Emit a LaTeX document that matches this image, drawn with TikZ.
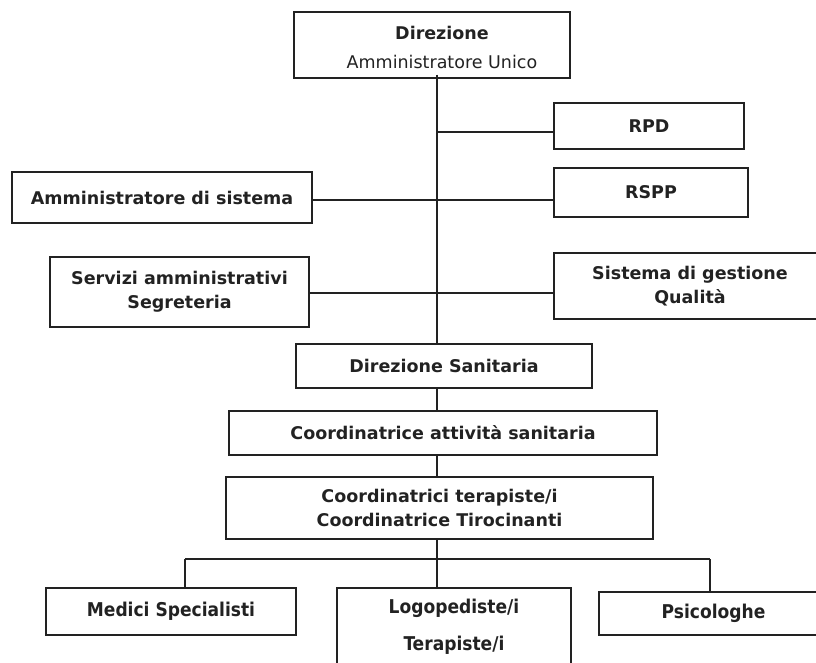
\documentclass[tikz,border=0pt]{standalone}
\usepackage{fontspec}
\setmainfont{DejaVu Sans}
\newfontfamily\condfont{DejaVuSansCondensed}[Extension=.ttf,BoldFont=DejaVuSansCondensed-Bold]
\definecolor{ink}{HTML}{222222}
\tikzset{
  orgbox/.style={draw=ink,line width=1.1pt,inner sep=0pt,align=center,
    font=\bfseries\fontsize{17.5}{24}\selectfont,text=ink},
  lowbox/.style={orgbox,font=\condfont\bfseries\fontsize{19}{37}\selectfont},
  link/.style={draw=ink,line width=1.1pt}
}
\begin{document}
\begin{tikzpicture}[x=1pt,y=-1pt]
\useasboundingbox (0,0) rectangle (816,663);
% boxes
\node[orgbox,minimum width=276pt,minimum height=66pt] (dir) at (432,45) {};
\node[align=center,inner sep=0pt,text=ink,font=\fontsize{17.5}{29}\selectfont] (dirtxt) at (442,47) {\textbf{Direzione}\\Amministratore Unico};
\node[orgbox,minimum width=190pt,minimum height=46pt] (rpd) at (649,126) {RPD};
\node[orgbox,minimum width=194pt,minimum height=49pt] (rspp) at (651,192.5) {RSPP};
\node[orgbox,minimum width=300pt,minimum height=51pt] (amm) at (162,197.5) {Amministratore di sistema};
\node[orgbox,minimum width=259pt,minimum height=70pt] (serv) at (179.5,292) {Servizi amministrativi\\Segreteria};
\node[orgbox,minimum width=272pt,minimum height=66pt] (sgq) at (690,286) {Sistema di gestione\\Qualità};
\node[orgbox,minimum width=296pt,minimum height=44pt] (dsan) at (444,366) {Direzione Sanitaria};
\node[orgbox,minimum width=428pt,minimum height=44pt] (catt) at (443,433) {Coordinatrice attività sanitaria};
\node[orgbox,minimum width=427pt,minimum height=62pt] (coord) at (439.5,508) {Coordinatrici terapiste/i\\Coordinatrice Tirocinanti};
\node[lowbox,minimum width=250pt,minimum height=47pt] (med) at (171,611.5) {Medici Specialisti};
\node[lowbox,minimum width=234pt,minimum height=77pt] (logo) at (454,626.5) {Logopediste/i\\Terapiste/i};
\node[lowbox,minimum width=229pt,minimum height=43pt] (psi) at (713.5,613.5) {Psicologhe};
% helper coordinates
\coordinate (spine) at (437,0);
\coordinate (yrpd) at (0,132);
\coordinate (yrspp) at (0,200);
\coordinate (ysgq) at (0,293);
\coordinate (bar) at (0,559);
\coordinate (medtop) at (185,559);
\coordinate (psitop) at (710,559);
% connectors
\draw[link] ([yshift=4pt]dir.south -| spine) -- (dsan.north -| spine);
\draw[link] (spine |- yrpd) -- (rpd.west |- yrpd);
\draw[link] (amm.east |- yrspp) -- (rspp.west |- yrspp);
\draw[link] (serv.east |- ysgq) -- (sgq.west |- ysgq);
\draw[link] (dsan.south -| spine) -- (catt.north -| spine);
\draw[link] (catt.south -| spine) -- (coord.north -| spine);
\draw[link] (coord.south -| spine) -- (spine |- bar);
\draw[link] (medtop) -- (psitop);
\draw[link] (medtop) -- (med.north -| medtop);
\draw[link] (spine |- bar) -- (logo.north -| spine);
\draw[link] (psitop) -- (psi.north -| psitop);
\end{tikzpicture}
\end{document}
